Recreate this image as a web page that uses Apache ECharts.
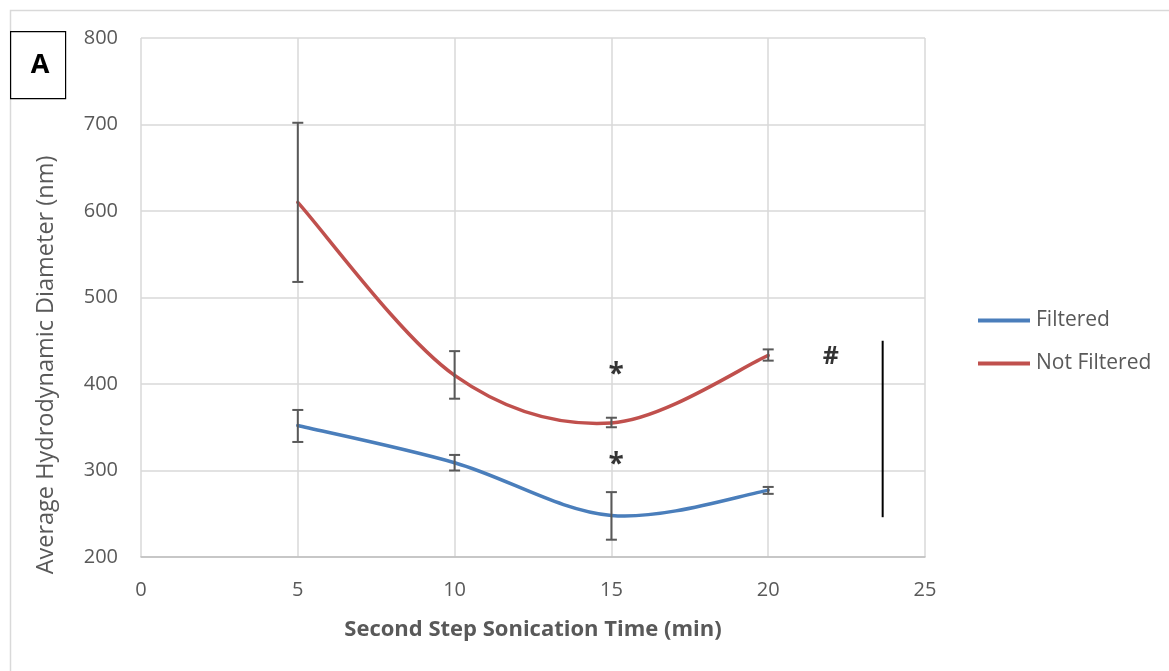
<!DOCTYPE html>
<html>
<head>
<meta charset="utf-8">
<script src="https://cdn.jsdelivr.net/npm/echarts@6/dist/echarts.min.js"></script>
<style>
html,body{margin:0;padding:0;background:#fff;}
#chart{width:1169px;height:671px;}
</style>
</head>
<body>
<div id="chart"></div>
<script>
// ---- data ----
const times = [5, 10, 15, 20];
const filtered = [352, 309, 248, 277];
const filteredLow = [333, 300, 220, 273];
const filteredHigh = [370, 318, 275, 281];
const notFiltered = [610, 410, 355, 433];
const notFilteredLow = [518, 383, 350, 427];
const notFilteredHigh = [702, 438, 361, 440];
const xTicks = [0, 5, 10, 15, 20, 25];
const yTicks = [200, 300, 400, 500, 600, 700, 800];
const seriesNames = ['Filtered', 'Not Filtered'];
const xTitle = 'Second Step Sonication Time (min)';
const yTitle = 'Average Hydrodynamic Diameter (nm)';
// annotations (data coordinates)
const starMarks = [[15.15, 418], [15.15, 314]];
const hashMark = [[22, 431]];
const sigLine = [[23.65, 450], [23.65, 246]];

const toPairs = (xs, ys) => xs.map((x, i) => [x, ys[i]]);
const toErr = (xs, lo, hi) => xs.map((x, i) => [x, lo[i], hi[i]]);

function errRender(params, api) {
  const x = api.value(0);
  const lo = api.coord([x, api.value(1)]);
  const hi = api.coord([x, api.value(2)]);
  const w = 5.5;
  const st = {stroke: '#595959', lineWidth: 2};
  return {
    type: 'group',
    children: [
      {type: 'line', shape: {x1: hi[0], y1: hi[1], x2: lo[0], y2: lo[1]}, style: st},
      {type: 'line', shape: {x1: hi[0] - w, y1: hi[1], x2: hi[0] + w, y2: hi[1]}, style: st},
      {type: 'line', shape: {x1: lo[0] - w, y1: lo[1], x2: lo[0] + w, y2: lo[1]}, style: st}
    ]
  };
}

// Excel-style smoothed line (Catmull-Rom Bezier, tension 1/6) through the library's scales
function smoothRender(xs, ys, color) {
  return function (params, api) {
    if (params.dataIndex !== 0) return null;
    const P = xs.map((x, i) => api.coord([x, ys[i]]));
    const n = P.length;
    const children = [];
    for (let i = 0; i < n - 1; i++) {
      const p0 = P[Math.max(i - 1, 0)], p1 = P[i], p2 = P[i + 1], p3 = P[Math.min(i + 2, n - 1)];
      children.push({
        type: 'bezierCurve',
        shape: {
          x1: p1[0], y1: p1[1], x2: p2[0], y2: p2[1],
          cpx1: p1[0] + (p2[0] - p0[0]) / 6, cpy1: p1[1] + (p2[1] - p0[1]) / 6,
          cpx2: p2[0] - (p3[0] - p1[0]) / 6, cpy2: p2[1] - (p3[1] - p1[1]) / 6
        },
        style: {stroke: color, lineWidth: 3.5, fill: null, lineCap: 'round'}
      });
    }
    return {type: 'group', children: children};
  };
}

const blue = '#4a7ebb', red = '#c0504d';
const chart = echarts.init(document.getElementById('chart'));
const font = '"Open Sans", "Liberation Sans", sans-serif';
chart.setOption({
  animation: false,
  backgroundColor: '#fff',
  textStyle: {fontFamily: font},
  grid: {left: 141, right: 244, top: 38, bottom: 114},
  legend: {
    data: seriesNames,
    orient: 'vertical',
    left: 978,
    top: 310,
    padding: 0,
    icon: 'rect',
    itemWidth: 52,
    itemHeight: 4,
    itemGap: 22,
    textStyle: {fontSize: 21, color: '#595959', fontFamily: font, padding: [0, 0, 0, 1]}
  },
  xAxis: {
    type: 'value', min: 0, max: 25, interval: 5,
    name: xTitle,
    nameLocation: 'middle', nameGap: 62,
    nameTextStyle: {fontSize: 22, fontWeight: 'bold', color: '#595959', fontFamily: font},
    axisLine: {show: true, lineStyle: {color: '#bfbfbf', width: 1.5}},
    axisTick: {show: false},
    axisLabel: {fontSize: 20, color: '#595959', margin: 23, fontFamily: font,
      formatter: v => xTicks.includes(v) ? String(v) : ''},
    splitLine: {show: true, lineStyle: {color: '#d9d9d9', width: 1.5}}
  },
  yAxis: {
    type: 'value', min: 200, max: 800, interval: 100,
    axisLine: {show: false},
    axisTick: {show: false},
    axisLabel: {fontSize: 20, color: '#595959', margin: 23, fontFamily: font,
      formatter: v => yTicks.includes(v) ? String(v) : ''},
    splitLine: {show: true, lineStyle: {color: '#d9d9d9', width: 1.5}}
  },
  graphic: [
    {type: 'rect', left: 8, top: 8, shape: {width: 1170, height: 670},
      style: {fill: 'none', stroke: '#d9d9d9', lineWidth: 1.5}, silent: true, z: -1},
    {type: 'rect', left: 10, top: 31, shape: {width: 55, height: 67},
      style: {fill: '#fff', stroke: '#000', lineWidth: 1.2}},
    {type: 'text', x: 40, y: 65, style: {text: 'A', fontSize: 27, fontWeight: 'bold', fill: '#000',
      fontFamily: font, align: 'center', verticalAlign: 'middle'}},
    {type: 'text', x: 46, y: 365, rotation: Math.PI / 2, style: {text: yTitle, fontSize: 23.5, fill: '#595959',
      fontFamily: font, align: 'center', verticalAlign: 'middle'}}
  ],
  series: [
    {name: seriesNames[0], type: 'custom', renderItem: smoothRender(times, filtered, blue),
      data: toPairs(times, filtered), itemStyle: {color: blue}, z: 3},
    {name: seriesNames[1], type: 'custom', renderItem: smoothRender(times, notFiltered, red),
      data: toPairs(times, notFiltered), itemStyle: {color: red}, z: 3},
    {name: 'errF', type: 'custom', renderItem: errRender, data: toErr(times, filteredLow, filteredHigh), z: 4},
    {name: 'errNF', type: 'custom', renderItem: errRender, data: toErr(times, notFilteredLow, notFilteredHigh), z: 4},
    {name: 'stars', type: 'scatter', data: starMarks, symbolSize: 1, itemStyle: {color: 'rgba(0,0,0,0)'},
      label: {show: true, position: 'inside', formatter: '*', fontSize: 28, fontWeight: 'bold', color: '#000', offset: [0, 7], fontFamily: font}},
    {name: 'hash', type: 'scatter', data: hashMark, symbolSize: 1, itemStyle: {color: 'rgba(0,0,0,0)'},
      label: {show: true, position: 'inside', formatter: '#', fontSize: 25, fontWeight: 'bold', color: '#000', fontFamily: font}},
    {name: 'sig', type: 'line', data: sigLine, symbol: 'none', lineStyle: {color: '#000', width: 2}, z: 5}
  ]
});
</script>
</body>
</html>
